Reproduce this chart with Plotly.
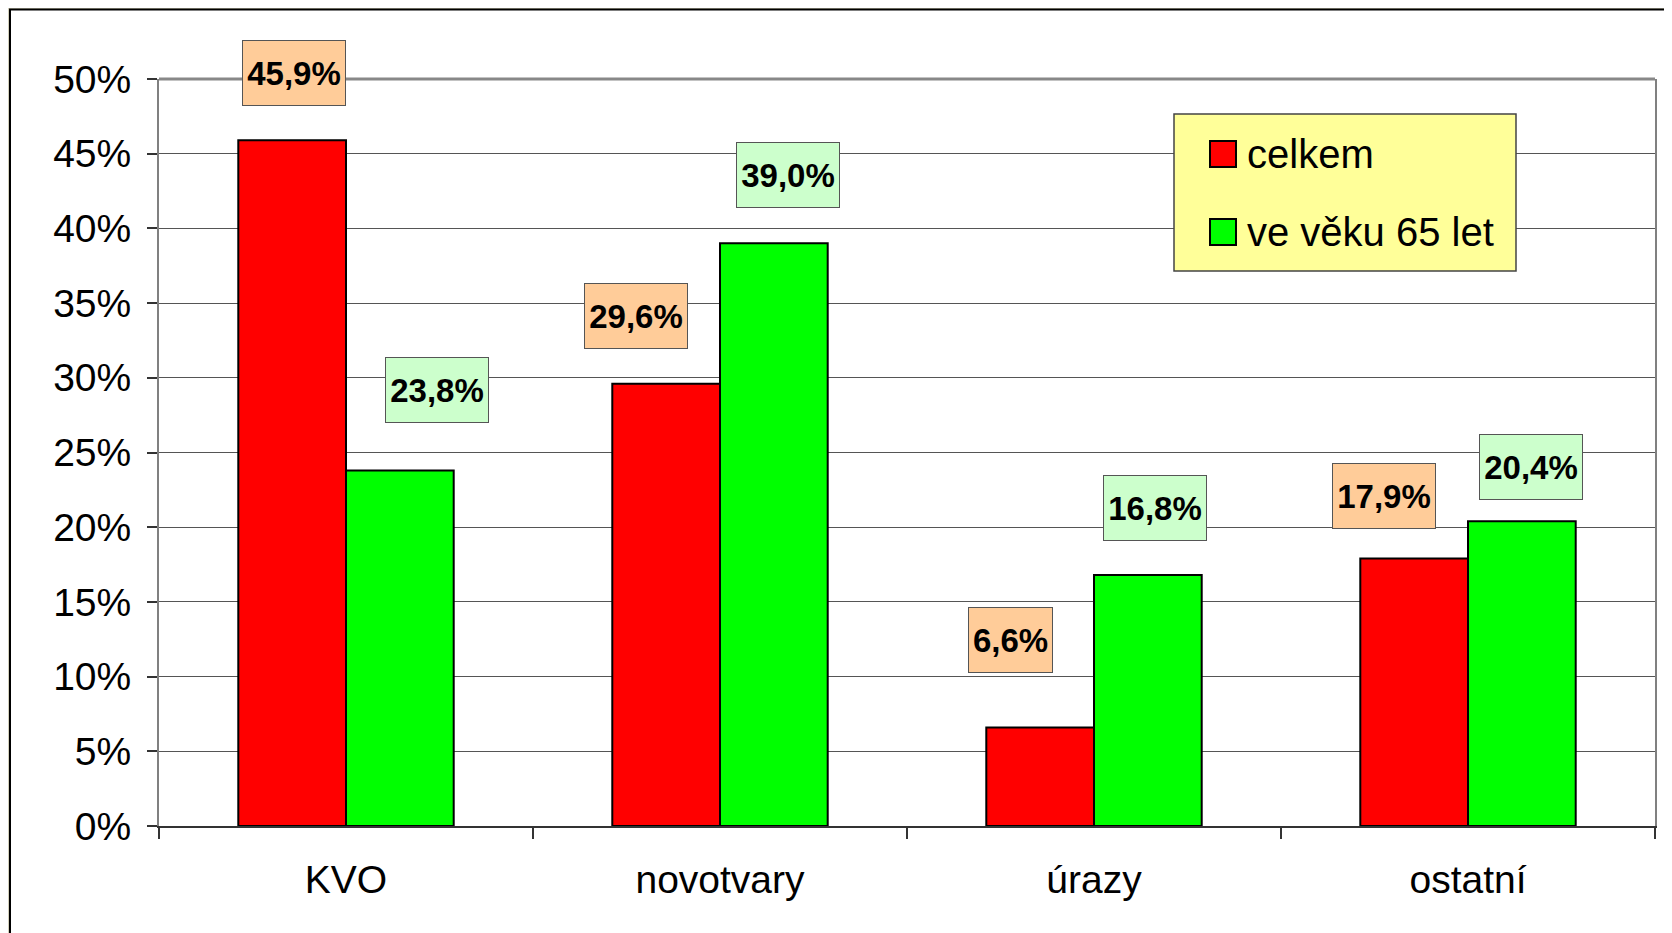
import plotly.graph_objects as go

categories = ["KVO", "novotvary", "úrazy", "ostatní"]
celkem = [45.9, 29.6, 6.6, 17.9]
vek_65 = [23.8, 39.0, 16.8, 20.4]
series_names = ["celkem", "ve věku 65 let"]

W, H = 1672, 933
OFF = 8  # page body margin
L, R, T, B = 159 - OFF, W - 1655 + OFF, 79 - OFF, H - 826 + OFF
FONT = "Liberation Sans, Arial, sans-serif"


def px_x(p):
    return (p - OFF - L) / (W - L - R)


def px_y(p):
    return (H - B - (p - OFF)) / (H - T - B)


fig = go.Figure()
for name, vals, col in [(series_names[0], celkem, "#ff0000"), (series_names[1], vek_65, "#00ff00")]:
    fig.add_trace(go.Bar(x=categories, y=vals, name=name, marker=dict(color=col, line=dict(color="#000000", width=2)),
                         showlegend=False))

# value boxes, placed by hand like in the original slide
red_shift = [(-52, 67), (-84, 68), (-84, 87), (-84, 63)]
green_shift = [(91, 80), (68, 68), (61, 67), (63, 54)]
for vals, shifts, bg in [(celkem, red_shift, "#ffcc99"), (vek_65, green_shift, "#ccffcc")]:
    for c, v, (dx, dy) in zip(categories, vals, shifts):
        t = f"{v:.1f}%".replace(".", ",")
        fig.add_annotation(x=c, y=v, xshift=dx, yshift=dy, text=f"<b>{t}</b>", showarrow=False,
                           yanchor="middle", bgcolor=bg, bordercolor="#555555", borderwidth=1, borderpad=4,
                           width=19 * len(t) - 1, height=56, font=dict(family=FONT, size=33, color="#000000"))

shapes = [
    dict(type="rect", xref="paper", yref="paper", x0=px_x(10), x1=px_x(1700), y0=px_y(980), y1=px_y(9.5),
         fillcolor="#ffffff", line=dict(color="#000000", width=2), layer="below"),
    dict(type="line", xref="paper", yref="paper", x0=0, x1=1, y0=1, y1=1,
         line=dict(color="#888888", width=3), layer="above"),
    # legend
    dict(type="rect", xref="paper", yref="paper", x0=px_x(1174), x1=px_x(1516), y0=px_y(271), y1=px_y(114),
         fillcolor="#ffff99", line=dict(color="#444444", width=1.5), layer="above"),
    dict(type="rect", xref="paper", yref="paper", x0=px_x(1210), x1=px_x(1236), y0=px_y(167), y1=px_y(141),
         fillcolor="#ff0000", line=dict(color="#000000", width=2), layer="above"),
    dict(type="rect", xref="paper", yref="paper", x0=px_x(1210), x1=px_x(1236), y0=px_y(245), y1=px_y(219),
         fillcolor="#00ff00", line=dict(color="#000000", width=2), layer="above"),
]
for name, yc in zip(series_names, [154, 232]):
    fig.add_annotation(xref="paper", yref="paper", x=px_x(1245), y=px_y(yc), text=name, showarrow=False,
                       xanchor="left", yanchor="middle", font=dict(family=FONT, size=40, color="#000000"))

fig.update_layout(
    width=W, height=H,
    margin=dict(l=L, r=R, t=T, b=B),
    paper_bgcolor="#d3d0bb", plot_bgcolor="#ffffff",
    barmode="group", bargap=0.424, bargroupgap=0,
    shapes=shapes,
    font=dict(family=FONT, color="#000000"),
)
fig.update_xaxes(showline=True, linecolor="#333333", linewidth=2, ticks="outside", tickson="boundaries",
                 ticklen=11, tickcolor="#333333", tickwidth=1.5, tickfont=dict(size=39), ticklabelstandoff=18)
fig.update_yaxes(range=[0, 50], dtick=5, ticksuffix="%", showline=True, mirror=True, linecolor="#808080",
                 linewidth=2, ticks="outside", ticklen=10, tickcolor="#333333", tickwidth=1.5,
                 showgrid=True, gridcolor="#555555", gridwidth=1.2, zeroline=False,
                 tickfont=dict(size=39), ticklabelstandoff=8)

fig.write_html("out.html")
